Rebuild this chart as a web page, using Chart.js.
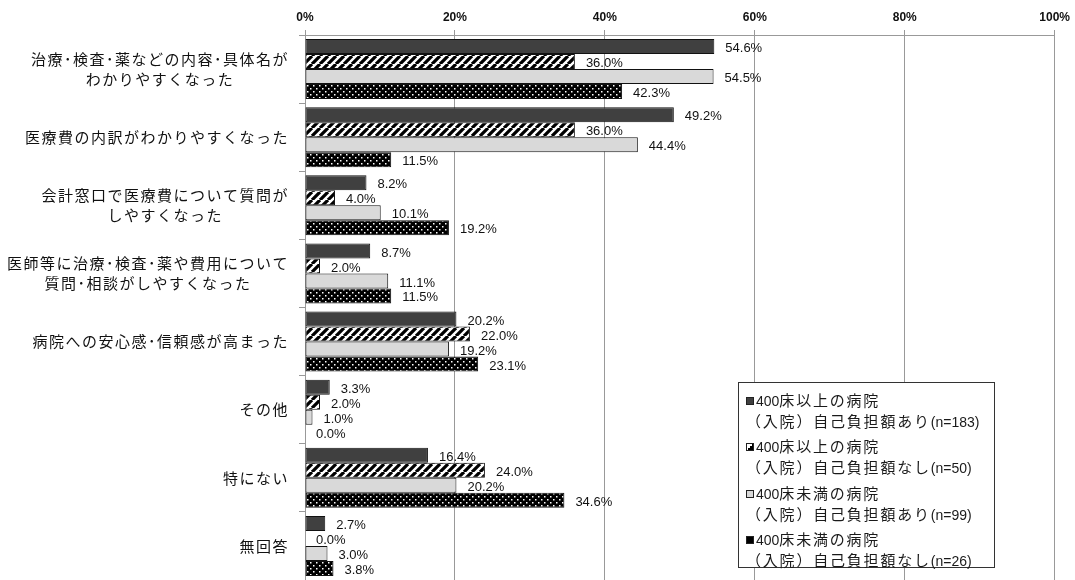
<!DOCTYPE html>
<html lang="ja">
<head>
<meta charset="utf-8">
<script src="https://cdn.jsdelivr.net/npm/chart.js@4.4.1/dist/chart.umd.min.js"></script>
<style>
  body { margin: 0; background: #fff; }
  #wrap { position: relative; width: 1075px; height: 580px; }
  #legend {
    position: absolute; left: 738px; top: 382px; width: 257px; height: 186px;
    border: 1px solid #333; background: #fff; box-sizing: border-box;
    font-family: "Noto Sans CJK JP", sans-serif; font-size: 15px; color: #1a1a1a;
    padding: 7px 0 0 7px; line-height: 19px; letter-spacing: 1.8px;
  }
  .item { height: 46.3px; white-space: nowrap; }
  .mk { display: inline-block; width: 8px; height: 8px; border: 1px solid #222; margin-right: 2px; vertical-align: 1px; box-sizing: border-box; }
  .item div { line-height: 19px; }
  .num { font-family: "Liberation Sans", sans-serif; font-size: 14px; letter-spacing: 0; }
</style>
</head>
<body>
<div id="wrap">
  <canvas id="chart" width="1075" height="580"></canvas>
  <div id="legend"></div>
</div>
<script>
// Data
const categories = [
  ["治療･検査･薬などの内容･具体名が", "わかりやすくなった"],
  ["医療費の内訳がわかりやすくなった"],
  ["会計窓口で医療費について質問が", "しやすくなった"],
  ["医師等に治療･検査･薬や費用について", "質問･相談がしやすくなった"],
  ["病院への安心感･信頼感が高まった"],
  ["その他"],
  ["特にない"],
  ["無回答"]
];
const seriesBeds = ["400", "400", "400", "400"];
const seriesNames = [
  ["床以上の病院", "（入院）自己負担額あり", "(n=183)"],
  ["床以上の病院", "（入院）自己負担額なし", "(n=50)"],
  ["床未満の病院", "（入院）自己負担額あり", "(n=99)"],
  ["床未満の病院", "（入院）自己負担額なし", "(n=26)"]
];
const largeWithPay = [54.6, 49.2, 8.2, 8.7, 20.2, 3.3, 16.4, 2.7];
const largeNoPay   = [36.0, 36.0, 4.0, 2.0, 22.0, 2.0, 24.0, 0.0];
const smallWithPay = [54.5, 44.4, 10.1, 11.1, 19.2, 1.0, 20.2, 3.0];
const smallNoPay   = [42.3, 11.5, 19.2, 11.5, 23.1, 0.0, 34.6, 3.8];
const xTicks = [0, 20, 40, 60, 80, 100];

// Fill patterns (diagonal hatch + dotted black)
function makeHatch() {
  const c = document.createElement('canvas');
  c.width = 8; c.height = 8;
  const g = c.getContext('2d');
  g.fillStyle = '#fff'; g.fillRect(0, 0, 8, 8);
  g.strokeStyle = '#000'; g.lineWidth = 3.2;
  g.beginPath();
  for (let k = -8; k <= 16; k += 8) {
    g.moveTo(k, 8); g.lineTo(k + 8, 0);
  }
  g.stroke();
  return g.createPattern(c, 'repeat');
}
function makeDots() {
  const c = document.createElement('canvas');
  c.width = 6; c.height = 6;
  const g = c.getContext('2d');
  g.fillStyle = '#000'; g.fillRect(0, 0, 6, 6);
  g.fillStyle = '#fff';
  g.fillRect(1, 1, 1.5, 1.5);
  g.fillRect(4, 4, 1.5, 1.5);
  return g.createPattern(c, 'repeat');
}

const fills = ['#404040', makeHatch(), '#d9d9d9', makeDots()];
const allData = [largeWithPay, largeNoPay, smallWithPay, smallNoPay];

// Category labels: right block, lines centered to each other
const catLabelPlugin = {
  id: 'catLabels',
  afterDraw(chart) {
    const ctx = chart.ctx;
    const y = chart.scales.y;
    ctx.save();
    ctx.font = '15px "Noto Sans CJK JP", sans-serif';
    ctx.letterSpacing = '1.5px';
    ctx.fillStyle = '#111';
    ctx.textAlign = 'center';
    ctx.textBaseline = 'middle';
    categories.forEach((lines, i) => {
      const cy = y.getPixelForValue(i);
      const w = Math.max(...lines.map(l => ctx.measureText(l).width));
      const cx = 289 - w / 2;
      const lh = 20;
      lines.forEach((l, j) => {
        ctx.fillText(l, cx, cy + (j - (lines.length - 1) / 2) * lh);
      });
    });
    ctx.restore();
  }
};

// Value labels to the right of each bar
const valueLabelPlugin = {
  id: 'valueLabels',
  afterDatasetsDraw(chart) {
    const ctx = chart.ctx;
    ctx.save();
    ctx.font = '13px "Liberation Sans", Arial, sans-serif';
    ctx.fillStyle = '#111';
    ctx.textAlign = 'left';
    ctx.textBaseline = 'middle';
    chart.data.datasets.forEach((ds, di) => {
      chart.getDatasetMeta(di).data.forEach((bar, i) => {
        ctx.fillText(ds.data[i].toFixed(1) + '%', bar.x + 11, bar.y + 2);
      });
    });
    ctx.restore();
  }
};

new Chart(document.getElementById('chart'), {
  type: 'bar',
  data: {
    labels: categories.map(c => c.join('')),
    datasets: allData.map((d, i) => ({
      label: seriesBeds[i] + seriesNames[i].join(''),
      data: d,
      backgroundColor: fills[i],
      borderColor: '#111',
      borderWidth: 1,
      borderSkipped: false,
      barPercentage: 1.0,
      categoryPercentage: 0.88
    }))
  },
  options: {
    indexAxis: 'y',
    responsive: false,
    animation: false,
    layout: { padding: { left: 0, right: 17, top: 0, bottom: 0 } },
    scales: {
      x: {
        position: 'top',
        min: 0, max: 100,
        afterBuildTicks: s => { s.ticks = xTicks.map(v => ({ value: v })); },
        afterFit: s => { s.height = 35; },
        ticks: {
          callback: v => v + '%',
          color: '#111',
          font: { family: '"Liberation Sans", Arial, sans-serif', size: 12, weight: 'bold' },
          padding: 5,
          maxRotation: 0
        },
        grid: { color: '#999', tickLength: 5 },
        border: { color: '#999' }
      },
      y: {
        afterFit: s => { s.width = 305; },
        ticks: { display: false },
        grid: { offset: true, drawOnChartArea: false, tickLength: 6, color: '#999' },
        border: { color: '#999' }
      }
    },
    plugins: {
      legend: { display: false },
      tooltip: { enabled: false }
    }
  },
  plugins: [catLabelPlugin, valueLabelPlugin]
});

// Legend box (bottom right, inside the plot)
const markers = [
  'background:#404040;',
  'background:linear-gradient(135deg,#fff 50%,#000 50%);',
  'background:#d9d9d9;',
  'background:#000;'
];
document.getElementById('legend').innerHTML = seriesNames.map((n, i) =>
  `<div class="item"><div><span class="mk" style="${markers[i]}"></span>` +
  `<span class="num">${seriesBeds[i]}</span>${n[0]}</div>` +
  `<div>${n[1]}<span class="num">${n[2]}</span></div></div>`
).join('');
</script>
</body>
</html>
